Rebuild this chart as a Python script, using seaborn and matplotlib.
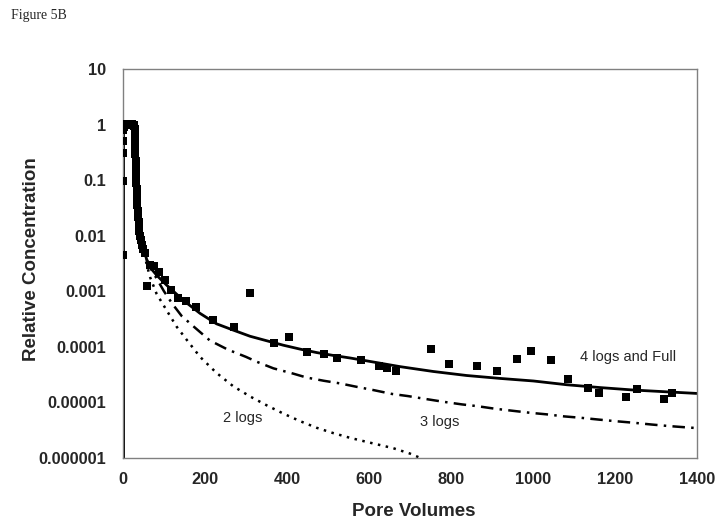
import matplotlib
matplotlib.use("Agg")
import matplotlib.pyplot as plt
import numpy as np
import pandas as pd
import seaborn as sns

# measured relative concentration (squares)
meas_pv = [0.2, 0.4, 0.6, 0.9, 1.2, 2, 3.5, 5, 6.5, 8, 9.5, 11, 12.5, 14, 15.5, 17, 18.5,
           20, 21.5, 23, 24.5, 26, 27.5, 28.5, 29, 29.5, 30, 30.5, 31, 31.5, 32, 32.5,
           33, 33.5, 34, 35, 36, 37, 38, 39, 40, 41, 43, 45.5, 49.5, 53.7, 57.8, 66,
           75.6, 88.6, 103, 117, 135, 153, 177, 219, 271, 311, 368, 406, 448, 490,
           521, 580, 625, 643, 667, 751, 796, 863, 912, 960, 994, 1045, 1086, 1134,
           1160, 1226, 1254, 1320, 1340]
meas_conc = [0.0045, 0.095, 0.31, 0.5, 0.8, 0.92, 1.0, 1.02, 0.98, 1.03, 1.0, 0.97, 1.02,
             1.04, 0.99, 1.01, 1.03, 0.98, 1.0, 1.02, 0.99, 1.0, 0.96, 0.85, 0.7, 0.55,
             0.4, 0.3, 0.22, 0.16, 0.12, 0.09, 0.07, 0.055, 0.045, 0.035, 0.028, 0.022,
             0.018, 0.015, 0.012, 0.0098, 0.0085, 0.0067, 0.0058, 0.0048, 0.00124,
             0.003, 0.0028, 0.0022, 0.0016, 0.00105, 0.00076, 0.00066, 0.00053,
             0.00031, 0.00023, 0.00095, 0.000115, 0.000148, 8.1e-5, 7.4e-5, 6.2e-5,
             5.8e-5, 4.6e-5, 4.2e-5, 3.7e-5, 9e-5, 5e-5, 4.6e-5, 3.7e-5, 6e-5, 8.5e-5,
             5.8e-5, 2.6e-5, 1.8e-5, 1.5e-5, 1.26e-5, 1.74e-5, 1.14e-5, 1.46e-5]

# model curves
full_pv = [1.5, 1.5, 28, 29, 30, 31, 32, 33, 35, 38, 42, 47, 52, 58, 66, 82, 106, 147, 188,
           228, 269, 310, 350, 391, 432, 472, 513, 554, 594, 676, 757, 838, 920, 1001,
           1082, 1163, 1245, 1326, 1400]
full_conc = [1e-8, 1.0, 1.0, 0.7, 0.38, 0.18, 0.09, 0.05, 0.028, 0.016, 0.0105, 0.0072,
             0.0052, 0.0037, 0.0027, 0.00195, 0.0013, 0.00069, 0.0004, 0.00026, 0.0002,
             0.000155, 0.000129, 0.000107, 9.1e-5, 7.9e-5, 7.0e-5, 6.3e-5, 5.6e-5,
             4.4e-5, 3.6e-5, 3.05e-5, 2.7e-5, 2.43e-5, 2.08e-5, 1.85e-5, 1.67e-5,
             1.55e-5, 1.45e-5]

logs3_pv = [1.5, 1.5, 28, 29, 30, 31, 32, 33, 35, 38, 42, 47, 52, 58, 66, 82, 100, 120, 143,
            176, 212, 256, 300, 326, 367, 415, 448, 490, 529, 571, 612, 656, 695, 739,
            780, 827, 862, 907, 948, 993, 1033, 1076, 1115, 1161, 1200, 1246, 1289,
            1332, 1375, 1400]
logs3_conc = [1e-8, 1.0, 1.0, 0.7, 0.38, 0.18, 0.09, 0.05, 0.028, 0.016, 0.0105, 0.0072,
              0.0052, 0.0037, 0.0027, 0.0017, 0.001, 0.0006, 0.00036, 0.00022, 0.00013,
              8.9e-5, 6.6e-5, 5.4e-5, 4.1e-5, 3.3e-5, 2.8e-5, 2.45e-5, 2.2e-5, 1.9e-5,
              1.66e-5, 1.42e-5, 1.3e-5, 1.15e-5, 1.03e-5, 9.2e-6, 8.6e-6, 7.7e-6,
              7.1e-6, 6.5e-6, 6.1e-6, 5.6e-6, 5.3e-6, 4.9e-6, 4.6e-6, 4.3e-6, 4.0e-6,
              3.75e-6, 3.55e-6, 3.45e-6]

logs2_pv = [1.5, 1.5, 28, 29, 30, 31, 32, 33, 35, 38, 42, 47, 52, 58, 66, 82, 106, 131, 155,
            188, 228, 269, 310, 350, 391, 432, 472, 513, 554, 594, 659, 700, 740]
logs2_conc = [1e-8, 1.0, 1.0, 0.7, 0.38, 0.18, 0.09, 0.05, 0.028, 0.016, 0.0105, 0.0072,
              0.0048, 0.003, 0.0018, 0.0009, 0.00046, 0.00023, 0.000135, 6.6e-5, 3.4e-5,
              1.95e-5, 1.28e-5, 8.9e-6, 6.3e-6, 4.6e-6, 3.5e-6, 2.8e-6, 2.3e-6, 1.95e-6,
              1.5e-6, 1.2e-6, 9e-7]

y_ticks = [10, 1, 0.1, 0.01, 0.001, 0.0001, 0.00001, 0.000001]
y_labels = ["10", "1", "0.1", "0.01", "0.001", "0.0001", "0.00001", "0.000001"]
x_ticks = [0, 200, 400, 600, 800, 1000, 1200, 1400]

sns.set_style("white")
plt.rcParams['font.family'] = ['Liberation Sans', 'DejaVu Sans']

fig = plt.figure(figsize=(7.26, 5.27), dpi=100)
ax = fig.add_axes([0.1694, 0.131, 0.7906, 0.738])

sns.lineplot(x=full_pv, y=full_conc, ax=ax, color="black", lw=2.0, sort=False,
             estimator=None)
sns.lineplot(x=logs3_pv, y=logs3_conc, ax=ax, color="black", lw=1.8, sort=False,
             estimator=None, linestyle=(0, (5, 2.5, 1, 2.5)))
sns.lineplot(x=logs2_pv, y=logs2_conc, ax=ax, color="black", lw=1.8, sort=False,
             estimator=None, linestyle=(0, (1, 2.2)))
sns.scatterplot(x=meas_pv, y=meas_conc, ax=ax, marker="s", s=30, color="black",
                linewidth=0, zorder=3)

ax.set_yscale("log")
ax.set_ylim(1e-6, 10)
ax.set_xlim(0, 1400)
ax.set_yticks(y_ticks)
ax.set_yticklabels(y_labels)
ax.set_xticks(x_ticks)
ax.minorticks_off()
ax.tick_params(axis="both", direction="out", length=4, width=1, color="#808080",
               labelsize=11.8)
ax.tick_params(axis="y", pad=8)
ax.tick_params(axis="x", pad=6)
for lab in ax.get_xticklabels() + ax.get_yticklabels():
    lab.set_fontweight("bold")
for sp in ax.spines.values():
    sp.set_color("#808080")
    sp.set_linewidth(1)

ax.set_xlabel("Pore Volumes", fontsize=13.5, fontweight="bold")
ax.set_ylabel("Relative Concentration", fontsize=13.5, fontweight="bold")
ax.xaxis.set_label_coords(0.507, -0.116)
ax.yaxis.set_label_coords(-0.1446, 0.51)

ax.text(1115, 6.6e-5, "4 logs and Full", fontsize=10.5, va="center", ha="left")
ax.text(773, 4.4e-6, "3 logs", fontsize=10.5, va="center", ha="center")
ax.text(293, 5.2e-6, "2 logs", fontsize=10.5, va="center", ha="center")

fig.text(11 / 726, 1 - 15 / 527, "Figure 5B", fontsize=10, va="center", ha="left",
         family="Liberation Serif")

fig.savefig("out.png", dpi=100)
